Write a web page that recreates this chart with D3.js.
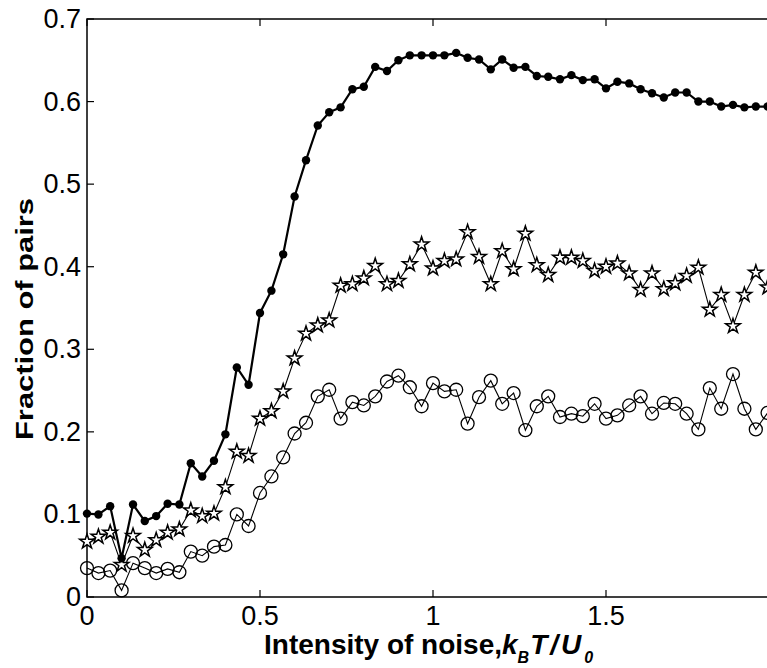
<!DOCTYPE html>
<html>
<head>
<meta charset="utf-8">
<script src="https://cdn.jsdelivr.net/npm/d3@7"></script>
<style>
  body { margin: 0; background: #fff; }
  svg { display: block; font-family: "Liberation Sans", Arial, sans-serif; }
</style>
</head>
<body>
<svg id="chart"></svg>
<script>
// noise intensity kB T / U0 (one sample every 1/30)
let noise = [0, 0.033, 0.067, 0.1, 0.133, 0.167, 0.2, 0.233, 0.267, 0.3,
    0.333, 0.367, 0.4, 0.433, 0.467, 0.5, 0.533, 0.567, 0.6, 0.633,
    0.667, 0.7, 0.733, 0.767, 0.8, 0.833, 0.867, 0.9, 0.933, 0.967,
    1, 1.033, 1.067, 1.1, 1.133, 1.167, 1.2, 1.233, 1.267, 1.3,
    1.333, 1.367, 1.4, 1.433, 1.467, 1.5, 1.533, 1.567, 1.6, 1.633,
    1.667, 1.7, 1.733, 1.767, 1.8, 1.833, 1.867, 1.9, 1.933, 1.967]

// filled dots, thick line
let dotPairs = [0.101, 0.100, 0.110, 0.047, 0.112, 0.092, 0.098, 0.113, 0.112, 0.162,
    0.146, 0.165, 0.197, 0.278, 0.257, 0.344, 0.371, 0.415, 0.485, 0.529,
    0.571, 0.587, 0.593, 0.615, 0.618, 0.642, 0.637, 0.650, 0.656, 0.656,
    0.656, 0.656, 0.659, 0.653, 0.651, 0.639, 0.651, 0.641, 0.642, 0.631,
    0.630, 0.627, 0.632, 0.626, 0.627, 0.616, 0.624, 0.622, 0.615, 0.610,
    0.605, 0.611, 0.611, 0.600, 0.600, 0.594, 0.596, 0.593, 0.594, 0.594]

// stars
let starPairs = [0.067, 0.073, 0.078, 0.039, 0.074, 0.057, 0.069, 0.078, 0.082, 0.105,
    0.098, 0.101, 0.133, 0.176, 0.171, 0.216, 0.225, 0.249, 0.289, 0.319,
    0.329, 0.335, 0.377, 0.379, 0.386, 0.401, 0.379, 0.383, 0.403, 0.427,
    0.398, 0.407, 0.409, 0.442, 0.412, 0.379, 0.419, 0.397, 0.440, 0.402,
    0.390, 0.411, 0.411, 0.407, 0.395, 0.400, 0.404, 0.392, 0.372, 0.392,
    0.373, 0.380, 0.389, 0.399, 0.348, 0.366, 0.328, 0.366, 0.393, 0.375]

// open circles
let ringPairs = [0.035, 0.029, 0.032, 0.008, 0.041, 0.035, 0.029, 0.034, 0.030, 0.055,
    0.050, 0.061, 0.063, 0.100, 0.086, 0.126, 0.146, 0.169, 0.198, 0.211,
    0.243, 0.251, 0.216, 0.236, 0.232, 0.243, 0.261, 0.268, 0.254, 0.231,
    0.259, 0.249, 0.251, 0.210, 0.242, 0.262, 0.234, 0.247, 0.202, 0.231,
    0.243, 0.218, 0.222, 0.219, 0.234, 0.216, 0.220, 0.232, 0.243, 0.222,
    0.235, 0.234, 0.222, 0.203, 0.253, 0.228, 0.270, 0.228, 0.203, 0.223]

// the axis runs to 2 but the picture is cut just before it
let xTicks = [0, 0.5, 1, 1.5]
let xTickLabels = ['0', '0.5', '1', '1.5']
let yTicks = [0, 0.1, 0.2, 0.3, 0.4, 0.5, 0.6, 0.7]
let yTickLabels = ['0', '0.1', '0.2', '0.3', '0.4', '0.5', '0.6', '0.7']

let width = 767
let height = 668
let plotLeft = 87, plotRight = 779, plotTop = 19, plotBottom = 597
let tickLen = 7

let $svg = d3.select('#chart')
    .attr('width', width)
    .attr('height', height)

let x = d3.scaleLinear().domain([0, 2]).range([plotLeft, plotRight])
let y = d3.scaleLinear().domain([0, 0.7]).range([plotBottom, plotTop])

// the box with inward ticks
$svg.append('rect')
    .attr('x', plotLeft).attr('y', plotTop)
    .attr('width', plotRight - plotLeft).attr('height', plotBottom - plotTop)
    .attr('fill', 'none')
    .attr('stroke', 'black')
    .attr('stroke-width', 1.5)

let $ticks = $svg.append('g').attr('stroke', 'black').attr('stroke-width', 1.2)
xTicks.forEach(t => {
    $ticks.append('line')
        .attr('x1', x(t)).attr('x2', x(t))
        .attr('y1', plotBottom).attr('y2', plotBottom - tickLen)
    $ticks.append('line')
        .attr('x1', x(t)).attr('x2', x(t))
        .attr('y1', plotTop).attr('y2', plotTop + tickLen)
})
yTicks.forEach(t => {
    $ticks.append('line')
        .attr('x1', plotLeft).attr('x2', plotLeft + tickLen)
        .attr('y1', y(t)).attr('y2', y(t))
})

// tick labels
$svg.append('g').selectAll('text')
    .data(xTicks)
    .join('text')
    .attr('x', d => x(d))
    .attr('y', 625)
    .attr('text-anchor', 'middle')
    .attr('font-size', 27)
    .text((d, i) => xTickLabels[i])

$svg.append('g').selectAll('text')
    .data(yTicks)
    .join('text')
    .attr('x', 81)
    .attr('y', d => y(d) + 9)
    .attr('text-anchor', 'end')
    .attr('font-size', 27)
    .text((d, i) => yTickLabels[i])

// series
let line = d3.line()
    .x(d => x(d[0]))
    .y(d => y(d[1]))

function pairs(values) {
    return values.map((v, i) => [noise[i], v])
}

let $plot = $svg.append('g')

$plot.append('path')
    .attr('d', line(pairs(ringPairs)))
    .attr('fill', 'none')
    .attr('stroke', 'black')
    .attr('stroke-width', 1.1)
$plot.append('g').selectAll('circle')
    .data(pairs(ringPairs))
    .join('circle')
    .attr('cx', d => x(d[0]))
    .attr('cy', d => y(d[1]))
    .attr('r', 6.5)
    .attr('fill', 'none')
    .attr('stroke', 'black')
    .attr('stroke-width', 1.3)

$plot.append('path')
    .attr('d', line(pairs(starPairs)))
    .attr('fill', 'none')
    .attr('stroke', 'black')
    .attr('stroke-width', 1.1)
let star = d3.symbol().type(d3.symbolStar).size(66)
$plot.append('g').selectAll('path')
    .data(pairs(starPairs))
    .join('path')
    .attr('d', star)
    .attr('transform', d => 'translate(' + x(d[0]) + ',' + y(d[1]) + ')')
    .attr('fill', 'white')
    .attr('stroke', 'black')
    .attr('stroke-width', 1.5)

$plot.append('path')
    .attr('d', line(pairs(dotPairs)))
    .attr('fill', 'none')
    .attr('stroke', 'black')
    .attr('stroke-width', 2.2)
$plot.append('g').selectAll('circle')
    .data(pairs(dotPairs))
    .join('circle')
    .attr('cx', d => x(d[0]))
    .attr('cy', d => y(d[1]))
    .attr('r', 4.2)
    .attr('fill', 'black')

// axis labels
let $xLabel = $svg.append('text')
    .attr('x', 264)
    .attr('y', 654)
    .attr('font-size', 28)
    .attr('font-weight', 'bold')
$xLabel.append('tspan').text('Intensity of noise,')
$xLabel.append('tspan').attr('font-style', 'italic').text('k')
$xLabel.append('tspan').attr('font-style', 'italic').attr('font-size', 16).attr('dy', 9).text('B')
$xLabel.append('tspan').attr('font-style', 'italic').attr('dy', -9).attr('dx', 1)
    .attr('letter-spacing', 3).text('T/U')
$xLabel.append('tspan').attr('font-style', 'italic').attr('font-size', 16).attr('dy', 9).text('0')

$svg.append('text')
    .attr('transform', 'translate(33,319) rotate(-90)')
    .attr('text-anchor', 'middle')
    .attr('font-size', 24)
    .attr('font-weight', 'bold')
    .attr('textLength', 242)
    .attr('lengthAdjust', 'spacingAndGlyphs')
    .text('Fraction of pairs')
</script>
</body>
</html>
